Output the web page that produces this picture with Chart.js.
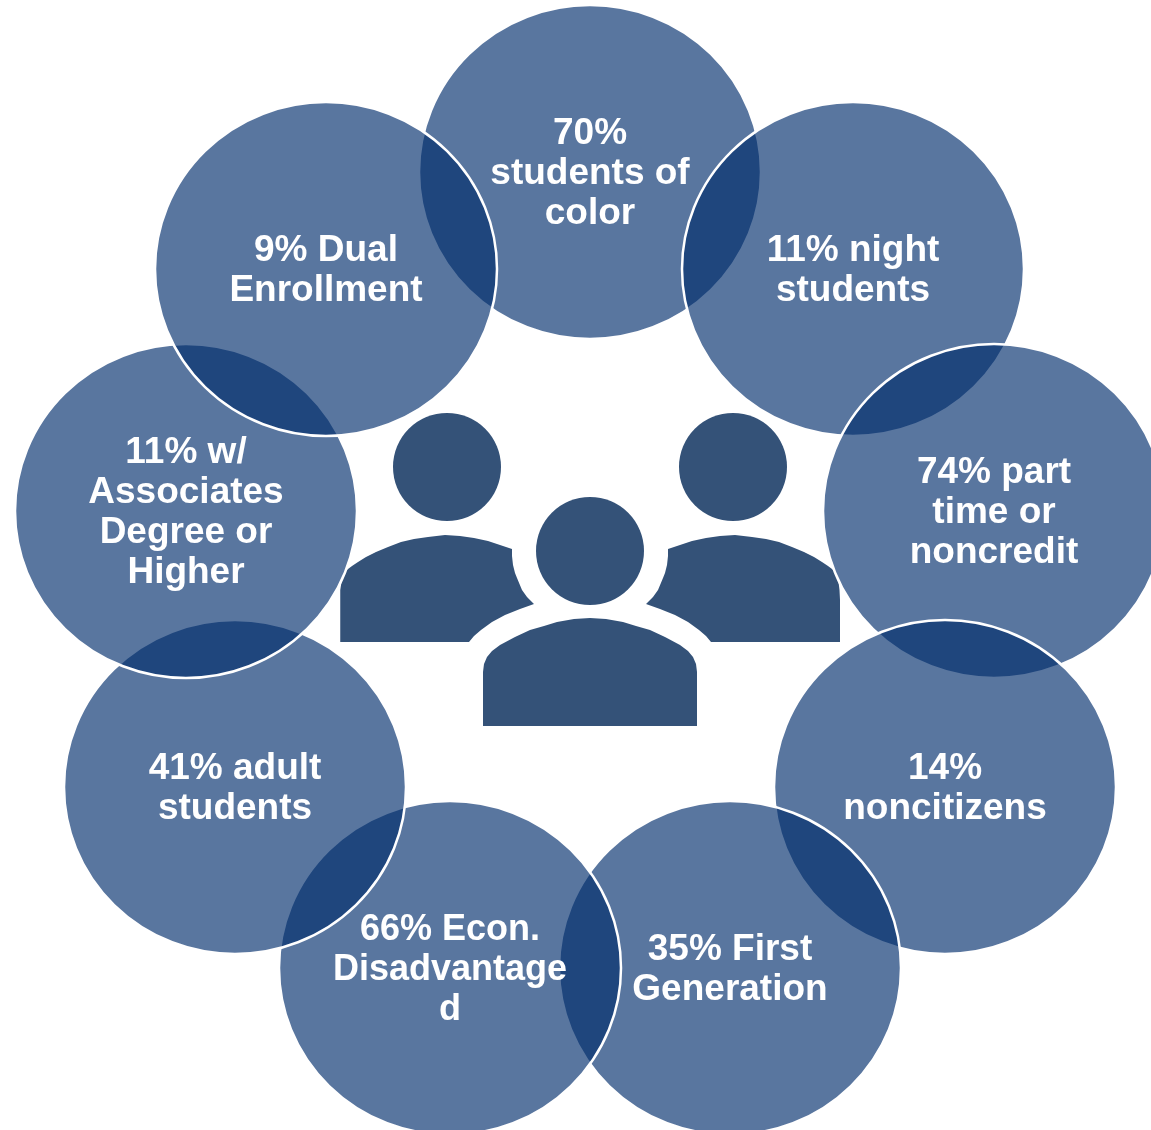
<!DOCTYPE html>
<html>
<head>
<meta charset="utf-8">
<style>
  html, body { margin: 0; padding: 0; background: #ffffff; }
  canvas { display: block; }
</style>
<script src="https://cdn.jsdelivr.net/npm/chart.js@4"></script>
</head>
<body>
<canvas id="ring" width="1151" height="1130"></canvas>
<script>
// Student population shares, clockwise from the top of the ring
const shares = [70, 11, 74, 14, 35, 66, 41, 11, 9];
const captions = [
  ['', 'students of', 'color'],
  [' night', 'students'],
  [' part', 'time or', 'noncredit'],
  ['', 'noncitizens'],
  [' First', 'Generation'],
  [' Econ.', 'Disadvantage', 'd'],
  [' adult', 'students'],
  [' w/', 'Associates', 'Degree or', 'Higher'],
  [' Dual', 'Enrollment']
];
const captionSizes = [37, 37, 37, 37, 37, 36, 37, 37, 37];
const ringX = [590, 853, 994, 945, 730, 450, 235, 186, 326];
const ringY = [172, 269, 511, 787, 968, 968, 787, 511, 269];

// People icon in the middle of the ring: three heads and three shoulder outlines
const headX = [447, 733, 590];
const headY = [467, 467, 551];

const leftShoulderX = [340, 340, 340.5, 341.5, 343, 345, 348, 352, 358, 366, 376, 388, 401, 414, 428, 445, 460, 474, 488, 500, 512, 512, 513, 515, 517, 522, 527, 534, 520, 505, 492, 481, 474, 469, 340];
const leftShoulderY = [642, 600, 590, 582, 576, 572, 569, 566, 562, 557, 552, 547, 542, 539, 537, 535, 536, 538, 541, 545, 549, 556, 565, 573, 578, 590, 597, 604, 609, 615, 622, 630, 636, 642, 642];

const rightShoulderX = [840, 840, 839.5, 838.5, 837, 835, 832, 828, 822, 814, 804, 792, 779, 766, 752, 735, 720, 706, 692, 680, 668, 668, 667, 665, 663, 658, 653, 646, 660, 675, 688, 699, 706, 711, 840];
const rightShoulderY = [642, 600, 590, 582, 576, 572, 569, 566, 562, 557, 552, 547, 542, 539, 537, 535, 536, 538, 541, 545, 549, 556, 565, 573, 578, 590, 597, 604, 609, 615, 622, 630, 636, 642, 642];

const frontShoulderX = [483, 483, 484, 487, 492, 500, 515, 530, 544, 557, 574, 590, 606, 623, 636, 650, 665, 680, 688, 693, 696, 697, 697, 483];
const frontShoulderY = [726, 672, 664, 657, 651, 645, 637, 630, 626, 622, 619, 618, 619, 622, 626, 630, 637, 645, 651, 657, 664, 672, 726, 726];

const ringFill = 'rgba(0, 44, 108, 0.65)';
const iconFill = '#345278';
const textFamily = '"Liberation Sans"';
const lineHeight = 40;
const captionDrop = 2;

// The ring shapes are slightly wider than tall, so they use a sprite as their point style
function ellipseSprite(halfWidth, halfHeight, strokeWidth) {
  const sprite = document.createElement('canvas');
  sprite.width = 2 * (halfWidth + 4);
  sprite.height = 2 * (halfHeight + 4);
  const g = sprite.getContext('2d');
  g.beginPath();
  g.ellipse(sprite.width / 2, sprite.height / 2, halfWidth, halfHeight, 0, 0, 2 * Math.PI);
  g.fillStyle = ringFill;
  g.fill();
  g.lineWidth = strokeWidth;
  g.strokeStyle = '#ffffff';
  g.stroke();
  return sprite;
}

const pairs = (xs, ys) => xs.map((x, i) => ({ x, y: ys[i] }));

const shoulder = (xs, ys) => ({
  type: 'line',
  data: pairs(xs, ys),
  order: 3,
  fill: 'shape',
  backgroundColor: iconFill,
  borderWidth: 0,
  pointRadius: 0,
  tension: 0
});

// Writes each circle's caption centred on the circle itself
const captionPlugin = {
  id: 'captions',
  afterDatasetsDraw(chart) {
    const { ctx } = chart;
    const circles = chart.getDatasetMeta(0).data;
    ctx.save();
    ctx.fillStyle = '#ffffff';
    ctx.textAlign = 'center';
    ctx.textBaseline = 'middle';
    circles.forEach((circle, i) => {
      ctx.font = 'bold ' + captionSizes[i] + 'px ' + textFamily;
      const lines = captions[i].slice();
      lines[0] = shares[i] + '%' + lines[0];
      const top = circle.y + captionDrop - (lines.length - 1) * lineHeight / 2;
      lines.forEach((line, k) => ctx.fillText(line, circle.x, top + k * lineHeight));
    });
    ctx.restore();
  }
};

new Chart(document.getElementById('ring'), {
  type: 'bubble',
  data: {
    datasets: [
      {
        data: pairs(ringX, ringY),
        order: 1,
        pointStyle: ellipseSprite(171, 167, 2.5),
        radius: 171
      },
      {
        data: pairs(headX, headY),
        order: 2,
        backgroundColor: iconFill,
        borderWidth: 0,
        radius: 54
      },
      shoulder(leftShoulderX, leftShoulderY),
      shoulder(rightShoulderX, rightShoulderY),
      shoulder(frontShoulderX, frontShoulderY)
    ]
  },
  options: {
    responsive: false,
    animation: false,
    events: [],
    layout: { padding: 0, autoPadding: false },
    plugins: { legend: { display: false }, tooltip: { enabled: false } },
    scales: {
      x: { type: 'linear', display: false, min: 0, max: 1151 },
      y: { type: 'linear', display: false, min: 0, max: 1130, reverse: true }
    }
  },
  plugins: [captionPlugin]
});
</script>
</body>
</html>
